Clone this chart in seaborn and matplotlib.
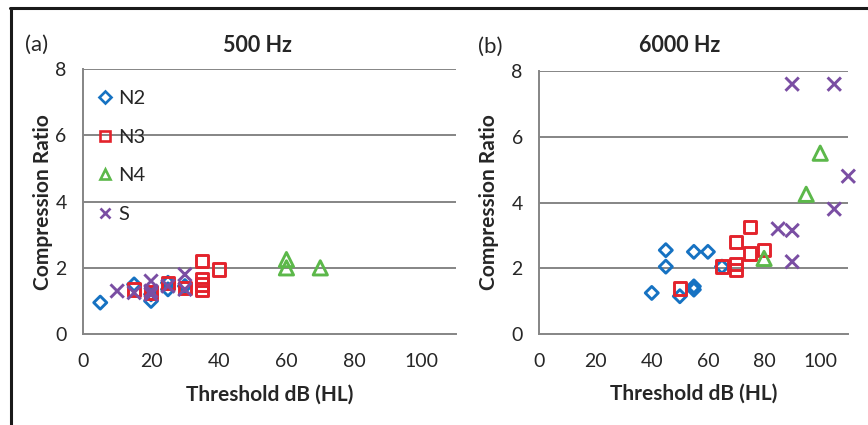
import numpy as np
import pandas as pd
import seaborn as sns
import matplotlib.pyplot as plt
from matplotlib.lines import Line2D

# datos: umbral (dB HL) y ratio de compresion
# 500 Hz
n2_500_x = [5, 15, 20, 20, 25, 25, 30]
n2_500_y = [0.95, 1.5, 1.0, 1.2, 1.35, 1.55, 1.45]
n3_500_x = [15, 20, 25, 30, 35, 35, 35, 35, 40]
n3_500_y = [1.35, 1.25, 1.55, 1.4, 2.2, 1.65, 1.5, 1.35, 1.95]
n4_500_x = [60, 60, 70]
n4_500_y = [2.25, 2.0, 2.0]
s_500_x = [10, 15, 20, 20, 20, 25, 30, 30]
s_500_y = [1.3, 1.25, 1.6, 1.3, 1.2, 1.45, 1.8, 1.35]

# 6000 Hz
n2_6k_x = [40, 45, 45, 50, 55, 55, 55, 60, 65]
n2_6k_y = [1.25, 2.55, 2.05, 1.15, 1.45, 1.35, 2.5, 2.5, 2.05]
n3_6k_x = [50, 65, 70, 70, 70, 75, 75, 80]
n3_6k_y = [1.38, 2.05, 2.13, 1.95, 2.8, 2.45, 3.25, 2.55]
n4_6k_x = [80, 95, 100]
n4_6k_y = [2.3, 4.25, 5.5]
s_6k_x = [90, 105, 110, 105, 85, 90, 90]
s_6k_y = [7.6, 7.6, 4.8, 3.8, 3.2, 3.15, 2.2]

grupos = ["N2", "N3", "N4", "S"]
colores = {"N2": "#1672c2", "N3": "#e3232c", "N4": "#5cb84a", "S": "#7a4ea3"}
marcadores = {"N2": "D", "N3": "s", "N4": "^", "S": "x"}
tamanos = {"N2": 44, "N3": 80, "N4": 105, "S": 92}

datos = {
    "500": {"N2": (n2_500_x, n2_500_y), "N3": (n3_500_x, n3_500_y),
            "N4": (n4_500_x, n4_500_y), "S": (s_500_x, s_500_y)},
    "6000": {"N2": (n2_6k_x, n2_6k_y), "N3": (n3_6k_x, n3_6k_y),
             "N4": (n4_6k_x, n4_6k_y), "S": (s_6k_x, s_6k_y)},
}

sns.set_theme(style="white")
plt.rcParams["font.family"] = ["Lato", "DejaVu Sans"]

fig = plt.figure(figsize=(8.68, 4.25), dpi=100)
ax1 = fig.add_axes([0.096, 0.214, 0.429, 0.623])
ax2 = fig.add_axes([0.6215, 0.214, 0.3558, 0.619])
gris = "#858585"

for ax, panel, ylab_x in [(ax1, "500", -0.082), (ax2, "6000", -0.13)]:
    for g in grupos:
        xs, ys = datos[panel][g]
        df = pd.DataFrame({"umbral": xs, "ratio": ys})
        sns.scatterplot(data=df, x="umbral", y="ratio", marker=marcadores[g],
                        s=tamanos[g], color=colores[g], linewidth=2.1,
                        legend=False, ax=ax, zorder=3, clip_on=False)
        coll = ax.collections[-1]
        coll.set_facecolor("none")
        coll.set_edgecolor(colores[g])
        coll.set_linewidth(2.1)

    ax.set_xlim(0, 110)
    ax.set_ylim(0, 8)
    ax.set_xticks([0, 20, 40, 60, 80, 100])
    ax.set_yticks([0, 2, 4, 6, 8])
    for yv in [2, 4, 6, 8]:
        ax.axhline(yv, color=gris, lw=1.4, zorder=1)
    for side in ["top", "right"]:
        ax.spines[side].set_visible(False)
    for side in ["left", "bottom"]:
        ax.spines[side].set_color(gris)
        ax.spines[side].set_linewidth(1.4)
    ax.tick_params(axis="x", direction="in", length=5, width=1.2, color=gris,
                   pad=14, labelsize=14)
    ax.tick_params(axis="y", length=0, pad=12, labelsize=14)
    ax.set_xlabel("Threshold dB (HL)", fontsize=15, fontweight="bold")
    ax.set_ylabel("Compression Ratio", fontsize=15, fontweight="bold")
    ax.xaxis.set_label_coords(0.5, -0.19)
    ax.yaxis.set_label_coords(ylab_x, 0.5)

# leyenda solo en el panel (a)
handles = [Line2D([], [], linestyle="none", marker=marcadores[g], color=colores[g],
                  markerfacecolor="none", markeredgewidth=1.9,
                  markersize=7.5 if g != "N2" else 6) for g in grupos]
ax1.legend(handles, grupos, loc="upper left", bbox_to_anchor=(-0.015, 0.99),
           frameon=False, fontsize=14.5, labelspacing=1.07, handlelength=0.9,
           handletextpad=0.2)

fig.text(0.297, 0.894, "500 Hz", ha="center", va="center", fontsize=15.5, fontweight="bold")
fig.text(0.783, 0.894, "6000 Hz", ha="center", va="center", fontsize=15.5, fontweight="bold")
fig.text(0.042, 0.894, "(a)", ha="center", va="center", fontsize=16)
fig.text(0.565, 0.889, "(b)", ha="center", va="center", fontsize=16)

# marco de la figura (recortado: solo arriba e izquierda)
fig.add_artist(Line2D([0.012, 1.0], [0.981, 0.981], color="#1a1a1a", lw=2.2,
                      transform=fig.transFigure))
fig.add_artist(Line2D([0.0125, 0.0125], [0.0, 0.981], color="#1a1a1a", lw=2.2,
                      transform=fig.transFigure))

plt.savefig("out.png", dpi=100)
plt.close()
print("Grafico guardado como out.png")
